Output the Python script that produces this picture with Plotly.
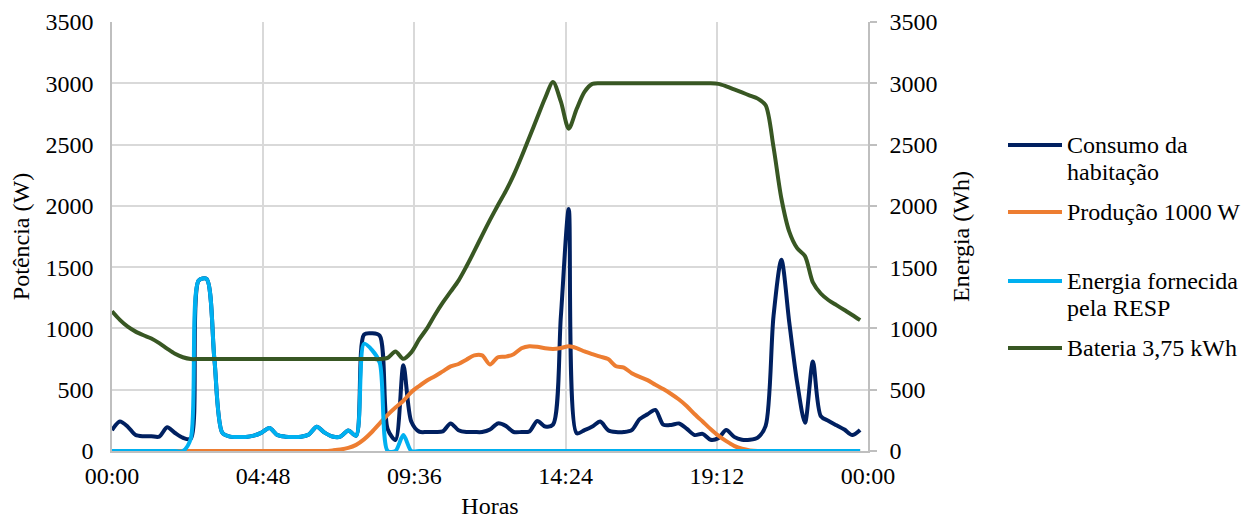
import plotly.graph_objects as go

# ---------------- data (15-minute samples, 00:00 .. 23:45) ----------------
hours = [i * 0.25 for i in range(96)]

consumo = [170, 240, 198, 130, 120, 120, 117, 193, 147, 108,
           100, 1390, 1405, 750, 150, 117, 115, 115, 125, 150,
           188, 130, 117, 115, 117, 135, 198, 150, 118, 117,
           168, 125, 950, 960, 940, 180, 90, 700, 240, 158,
           155, 155, 160, 225, 170, 155, 155, 155, 175, 225,
           205, 155, 155, 160, 245, 200, 215, 1100, 1975, 145,
           170, 200, 240, 170, 155, 155, 170, 260, 300, 335,
           215, 212, 225, 180, 130, 140, 92, 105, 171, 115,
           92, 92, 110, 205, 1100, 1560, 1050, 560, 230, 730,
           285, 245, 210, 175, 130, 171]

producao = [0] * 28 + [5, 12, 25, 50, 95, 155, 225, 295, 355, 410,
                       480, 530, 575, 610, 650, 690, 710, 745, 780, 780,
                       705, 765, 770, 790, 838, 855, 850, 838, 832, 840,
                       855, 840, 812, 790, 770, 750, 692, 680, 635, 605,
                       578, 540, 505, 465, 420, 365, 300, 240, 180, 125,
                       80, 42, 18, 5] + [0] * 14

resp = [0, 0, 0, 0, 0, 0, 0, 0, 0, 0,
        100, 1390, 1405, 750, 150, 117, 115, 115, 125, 150,
        188, 130, 117, 115, 117, 135, 198, 150, 118, 117,
        168, 125, 875, 825, 720, 0, 0, 130, 0] + [0] * 57

bateria = [1140, 1070, 1014, 974, 944, 918, 880, 835, 793, 765,
           750, 750, 750, 750, 750, 750, 750, 750, 750, 750,
           750, 750, 750, 750, 750, 750, 750, 750, 750, 750,
           750, 750, 750, 750, 750, 760, 812, 752, 805, 910,
           1000, 1110, 1210, 1300, 1390, 1505, 1630, 1760, 1885, 2005,
           2120, 2250, 2400, 2560, 2720, 2880, 3010, 2850, 2630, 2790,
           2930, 2995, 3000, 3000, 3000, 3000, 3000, 3000, 3000, 3000,
           3000, 3000, 3000, 3000, 3000, 3000, 3000, 2995, 2975, 2950,
           2925, 2900, 2875, 2820, 2480, 2060, 1790, 1655, 1590, 1375,
           1285, 1230, 1190, 1150, 1110, 1068]

series_names = ["Consumo da habitação", "Produção 1000 W",
                "Energia fornecida pela RESP", "Bateria 3,75 kWh"]
legend_lines = [["Consumo da", "habitação"], ["Produção 1000 W"],
                ["Energia fornecida", "pela RESP"], ["Bateria 3,75 kWh"]]
colors = ["#002060", "#ED7D31", "#00B0F0", "#385723"]

x_tickvals = [0, 4.8, 9.6, 14.4, 19.2, 24]
x_ticktext = ["00:00", "04:48", "09:36", "14:24", "19:12", "00:00"]
y_tickvals = [0, 500, 1000, 1500, 2000, 2500, 3000, 3500]

FONT = "Liberation Serif, Times New Roman, serif"
FS = 24
LW = 4
W, H = 1241, 519
L, R, T, B = 112, 868, 22, 451  # plot area in pixels

fig = go.Figure()
data = [consumo, producao, resp, bateria]
for k, (name, vals, col) in enumerate(zip(series_names, data, colors)):
    fig.add_trace(go.Scatter(
        x=hours, y=vals, name=name, mode="lines",
        line=dict(color=col, width=LW, shape="spline", smoothing=0.8),
        yaxis="y2" if k == 3 else "y",
        showlegend=False,
    ))

fig.update_layout(
    width=W, height=H,
    margin=dict(l=L, r=W - R, t=T, b=H - B, pad=0, autoexpand=False),
    paper_bgcolor="white", plot_bgcolor="white",
    font=dict(family=FONT, size=FS, color="black"),
    xaxis=dict(
        range=[0, 24], tickvals=x_tickvals, ticktext=x_ticktext,
        showgrid=True, gridcolor="#d9d9d9", gridwidth=1.5,
        showline=True, linecolor="#bfbfbf", linewidth=1.5,
        ticks="", ticklabelstandoff=2, zeroline=False, automargin=False,
        title=dict(text="Horas", standoff=16, font=dict(size=FS)),
    ),
    yaxis=dict(
        range=[0, 3500], tickvals=y_tickvals,
        showgrid=True, gridcolor="#d9d9d9", gridwidth=1.5,
        showline=True, linecolor="#bfbfbf", linewidth=1.5,
        ticks="", ticklabelstandoff=12, zeroline=False, automargin=False,
        title=dict(text="Potência (W)", standoff=9, font=dict(size=FS)),
    ),
    yaxis2=dict(
        range=[0, 3500], tickvals=y_tickvals, overlaying="y", side="right",
        showgrid=False, zeroline=False, automargin=False,
        showline=True, linecolor="#bfbfbf", linewidth=1.5,
        ticks="outside", ticklen=7, tickcolor="#bfbfbf", tickwidth=1.5,
        ticklabelstandoff=8,
        title=dict(text="Energia (Wh)", standoff=16, font=dict(size=FS)),
    ),
)

# ---------------- legend (drawn manually to match layout) ----------------
def px_x(p):
    return (p - L) / (R - L)

def px_y(p):
    return (B - p) / (B - T)

sym_y = [145, 212, 281, 348]
line_gap = 27
for lines, col, yy in zip(legend_lines, colors, sym_y):
    fig.add_shape(type="line", xref="paper", yref="paper",
                  x0=px_x(1008), x1=px_x(1062), y0=px_y(yy), y1=px_y(yy),
                  line=dict(color=col, width=LW))
    for j, txt in enumerate(lines):
        fig.add_annotation(text=txt, xref="paper", yref="paper",
                           x=px_x(1065), y=px_y(yy + j * line_gap),
                           xanchor="left", yanchor="middle", showarrow=False,
                           font=dict(family=FONT, size=FS, color="black"))

fig.write_html("out.html")
